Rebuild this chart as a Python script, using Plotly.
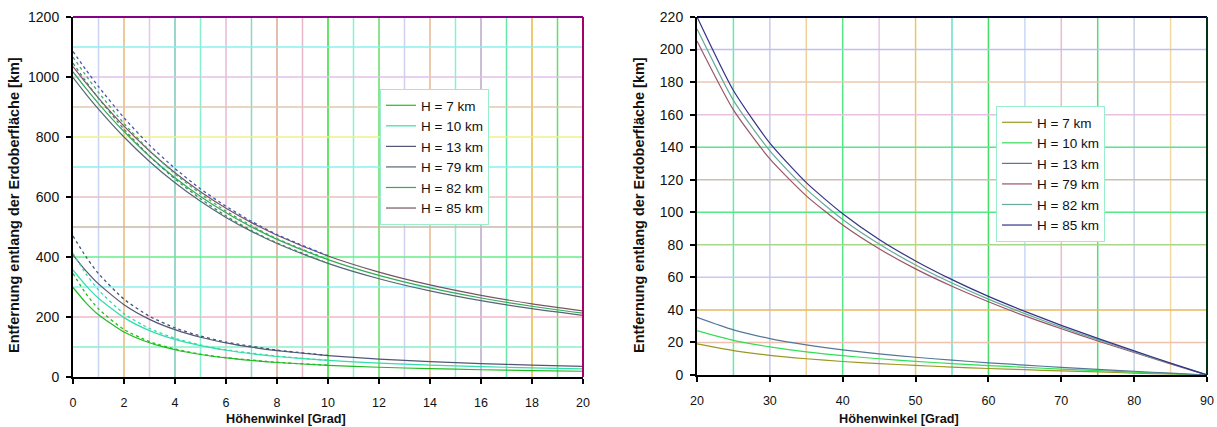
import plotly.graph_objects as go
from plotly.subplots import make_subplots

# ---------------- data ----------------
heights = ["H = 7 km", "H = 10 km", "H = 13 km", "H = 79 km", "H = 82 km", "H = 85 km"]

# left chart (elevation 0..20 deg)
x_left = [0, 0.5, 1, 2, 3, 4, 5, 6, 7, 8, 10, 12, 14, 16, 18, 20]
left_h7 = [298.5, 248.1, 207.4, 149.8, 114.0, 90.8, 74.9, 63.5, 55.0, 48.4, 39.0, 32.5, 27.8, 24.2, 21.4, 19.1]
left_h10 = [356.7, 305.4, 262.5, 197.9, 154.7, 125.2, 104.4, 89.1, 77.5, 68.4, 55.3, 46.2, 39.6, 34.5, 30.5, 27.3]
left_h13 = [406.6, 354.8, 310.3, 241.0, 192.2, 157.7, 132.5, 113.8, 99.4, 88.0, 71.3, 59.7, 51.2, 44.7, 39.6, 35.4]
left_h79 = [998.2, 944.1, 893.1, 800.0, 718.4, 647.3, 585.5, 531.9, 485.4, 445.0, 378.9, 327.6, 287.1, 254.5, 227.7, 205.3]
left_h82 = [1016.7, 962.6, 911.6, 818.2, 736.0, 664.2, 601.7, 547.4, 500.1, 458.9, 391.3, 338.7, 297.0, 263.4, 235.8, 212.7]
left_h85 = [1035.0, 980.9, 929.7, 836.0, 753.4, 680.9, 617.7, 562.6, 514.6, 472.6, 403.5, 349.7, 306.9, 272.3, 243.9, 220.1]

# dotted curves (with refraction), low group
x_dot_low = [0, 0.5, 1, 2, 3, 4, 5, 6, 8, 10]
dot_h7 = [344.9, 278.6, 227.1, 158.3, 118.1, 93.0, 76.2, 64.5, 49.1, 39.3]
dot_h10 = [412.2, 344.7, 289.8, 211.2, 161.6, 129.2, 106.8, 90.8, 69.6, 55.8]
dot_h13 = [470.0, 401.7, 344.6, 259.2, 202.3, 163.8, 136.4, 116.5, 89.7, 72.0]
# dotted curves, high group
x_dot_high = [0, 0.5, 1, 2, 3, 4, 5, 6, 7, 8, 10]
dot_h79 = [1046, 986, 929, 826, 736, 660, 594, 537, 488, 447, 379]
dot_h82 = [1066, 1006, 949, 845, 755, 677, 611, 553, 504, 461, 392]
dot_h85 = [1085, 1025, 968, 864, 773, 695, 627, 569, 519, 475, 404]

# right chart (elevation 20..90 deg)
x_right = [20, 25, 30, 35, 40, 45, 50, 55, 60, 65, 70, 75, 80, 85, 90]
right_h7 = [19.1, 15.0, 12.1, 10.0, 8.3, 7.0, 5.9, 4.9, 4.0, 3.3, 2.5, 1.9, 1.2, 0.6, 0]
right_h10 = [27.3, 21.3, 17.3, 14.2, 11.9, 10.0, 8.4, 7.0, 5.8, 4.7, 3.6, 2.7, 1.8, 0.9, 0]
right_h13 = [35.4, 27.7, 22.4, 18.5, 15.4, 13.0, 10.9, 9.1, 7.5, 6.1, 4.7, 3.5, 2.3, 1.1, 0]
right_h79 = [205.3, 162.9, 132.8, 110.1, 92.2, 77.6, 65.2, 54.5, 45.0, 36.3, 28.4, 20.9, 13.8, 6.8, 0]
right_h82 = [212.7, 168.8, 137.7, 114.2, 95.6, 80.5, 67.6, 56.5, 46.6, 37.7, 29.4, 21.7, 14.3, 7.1, 0]
right_h85 = [220.1, 174.8, 142.5, 118.2, 99.1, 83.3, 70.1, 58.6, 48.3, 39.1, 30.5, 22.5, 14.8, 7.3, 0]

# grid lines (values and colours)
left_xgrid = list(range(1, 20))
left_xgrid_colors = ["#c8d4f0", "#e8b878", "#e8c8e8", "#78c8b8", "#88f0d0", "#e8b8d0", "#88d8c8",
                     "#d8a890", "#e8b8c8", "#33dd33", "#88f0d8", "#66dd66", "#d0d0f0", "#e8b890",
                     "#88f0d8", "#b8a8c8", "#66e8a8", "#e8b840", "#66dd66"]
left_ygrid = list(range(100, 1200, 100))
left_ygrid_colors = ["#88f0c8", "#f0b8c8", "#88f0f0", "#66ee88", "#c8b8a8", "#e8c0c0",
                     "#88f0f0", "#f0f088", "#e0c8b0", "#e0c0e8", "#88f0f0"]
right_xgrid = list(range(25, 90, 5))
right_xgrid_colors = ["#66e8b0", "#c8c8f0", "#f0d098", "#55e888", "#e8c8e0", "#e8c860", "#66e0c0",
                      "#44dd66", "#c8d8f8", "#f0b8c8", "#55dd77", "#c8d0e0", "#f0d8a0"]
right_ygrid = list(range(20, 220, 20))
right_ygrid_colors = ["#f0c0b0", "#e8b860", "#c8c8f8", "#a8d888", "#55e888", "#c8c0b0",
                      "#55e888", "#e8c0e0", "#e8c8b0", "#c0c0f0"]

left_colors = ["#22bb22", "#33ddaa", "#555577", "#556677", "#33aa55", "#775566"]
right_colors = ["#999922", "#33dd55", "#557799", "#995566", "#66aa99", "#333388"]

# ---------------- figure ----------------
fig = make_subplots(rows=1, cols=2)

left_series = [left_h7, left_h10, left_h13, left_h79, left_h82, left_h85]
for name, ys, col in zip(heights, left_series, left_colors):
    fig.add_trace(go.Scatter(x=x_left, y=ys, name=name, mode="lines",
                             line=dict(color=col, width=1.2, shape="spline", smoothing=0.6),
                             legend="legend"), row=1, col=1)

for xs, ys, col in [(x_dot_low, dot_h7, left_colors[0]), (x_dot_low, dot_h10, left_colors[1]),
                    (x_dot_low, dot_h13, "#445577"), (x_dot_high, dot_h79, "#448866"),
                    (x_dot_high, dot_h82, "#44aa66"), (x_dot_high, dot_h85, "#4455bb")]:
    fig.add_trace(go.Scatter(x=xs, y=ys, mode="lines", showlegend=False,
                             line=dict(color=col, width=1.3, dash="dot", shape="spline", smoothing=0.6)),
                  row=1, col=1)

right_series = [right_h7, right_h10, right_h13, right_h79, right_h82, right_h85]
for name, ys, col in zip(heights, right_series, right_colors):
    fig.add_trace(go.Scatter(x=x_right, y=ys, name=name, mode="lines",
                             line=dict(color=col, width=1.2, shape="spline", smoothing=0.6),
                             legend="legend2"), row=1, col=2)

# coloured grid lines
shapes = []
for v, c in zip(left_xgrid, left_xgrid_colors):
    shapes.append(dict(type="line", xref="x", yref="y domain", x0=v, x1=v, y0=0, y1=1,
                       line=dict(color=c, width=1.5), layer="below"))
for v, c in zip(left_ygrid, left_ygrid_colors):
    shapes.append(dict(type="line", xref="x domain", yref="y", x0=0, x1=1, y0=v, y1=v,
                       line=dict(color=c, width=1.5), layer="below"))
for v, c in zip(right_xgrid, right_xgrid_colors):
    shapes.append(dict(type="line", xref="x2", yref="y2 domain", x0=v, x1=v, y0=0, y1=1,
                       line=dict(color=c, width=1.5), layer="below"))
for v, c in zip(right_ygrid, right_ygrid_colors):
    shapes.append(dict(type="line", xref="x2 domain", yref="y2", x0=0, x1=1, y0=v, y1=v,
                       line=dict(color=c, width=1.5), layer="below"))
# plot borders (top / right)
shapes += [
    dict(type="line", xref="x domain", yref="y domain", x0=0, x1=1, y0=1, y1=1, line=dict(color="#880088", width=2)),
    dict(type="line", xref="x domain", yref="y domain", x0=1, x1=1, y0=0, y1=1, line=dict(color="#aa0066", width=2)),
    dict(type="line", xref="x2 domain", yref="y2 domain", x0=0, x1=1, y0=1, y1=1, line=dict(color="#000033", width=2)),
    dict(type="line", xref="x2 domain", yref="y2 domain", x0=1, x1=1, y0=0, y1=1, line=dict(color="#003311", width=2)),
]

W, H = 1217, 427
FONT = "Liberation Sans, Arial, sans-serif"
tick_x_font = dict(family=FONT, size=12.5, color="#111")
tick_y_font = dict(family=FONT, size=14, color="#111")
common_x = dict(showgrid=False, zeroline=False, showline=True, linecolor="#000", linewidth=2,
                ticks="outside", ticklen=5, tickcolor="#000", tickwidth=1.5, tickfont=tick_x_font,
                ticklabelstandoff=8, automargin=False)
common_y = dict(showgrid=False, zeroline=False, showline=True, linecolor="#000", linewidth=2,
                ticks="outside", ticklen=5, tickcolor="#000", tickwidth=1.5, tickfont=tick_y_font,
                ticklabelstandoff=4, automargin=False)

legend_common = dict(xanchor="left", yanchor="top", bgcolor="white",
                     bordercolor="#99eecc", borderwidth=1, font=dict(family=FONT, size=13.5, color="#111"),
                     itemwidth=30, tracegroupgap=0)

fig.update_layout(
    width=W, height=H,
    margin=dict(l=0, r=0, t=17, b=50, autoexpand=False),
    plot_bgcolor="white", paper_bgcolor="white",
    font=dict(family=FONT, color="#111"),
    shapes=shapes,
    xaxis=dict(domain=[73 / W, 583 / W], range=[0, 20], dtick=2, **common_x),
    yaxis=dict(domain=[0, 1], range=[0, 1200], dtick=200, **common_y),
    xaxis2=dict(domain=[697 / W, 1207 / W], range=[20, 90], dtick=10, **common_x),
    yaxis2=dict(domain=[2 / 360, 1], range=[0, 220], dtick=20, **common_y),
    legend=dict(x=380 / W, y=(377 - 89) / 360, **legend_common),
    legend2=dict(x=996 / W, y=(377 - 106) / 360, **legend_common),
    showlegend=True,
)

title_font_x = dict(family=FONT, size=12.7, color="#111")
title_font_y = dict(family=FONT, size=14.5, color="#111")
for xc in (286, 899):
    fig.add_annotation(text="<b>Höhenwinkel [Grad]</b>", xref="paper", yref="paper",
                       x=xc / W, y=(377 - 419) / 360, xanchor="center", yanchor="middle",
                       showarrow=False, font=title_font_x)
for xc in (14, 639):
    fig.add_annotation(text="<b>Entfernung entlang der Erdoberfläche [km]</b>", xref="paper", yref="paper",
                       x=xc / W, y=(377 - 205) / 360, xanchor="center", yanchor="middle",
                       textangle=-90, showarrow=False, font=title_font_y)

fig.write_html("out.html", config={"displayModeBar": False},
               post_script="document.body.style.margin='0px';")
